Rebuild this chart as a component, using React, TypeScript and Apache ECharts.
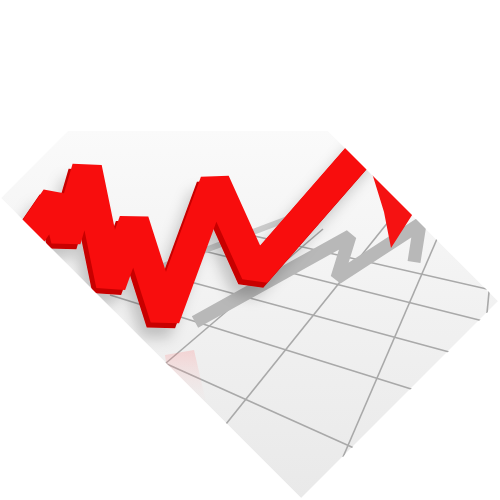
import React, { useEffect, useRef } from "react";
import * as echarts from "echarts";

// everything is read in screen units: both axes run 0..500 over the canvas
const ribbonX = [12, 56, 66, 87, 111, 134, 165, 215, 256, 372];
const ribbonY = [262, 198, 240, 168, 285, 221, 318, 182, 273, 140];

const arrowX = [368, 405, 414, 391, 384];
const arrowY = [160, 197, 212, 248, 212];

const shadowX = [195, 350, 337, 420, 414];
const shadowY = [322, 236, 278, 224, 262];

const shadow2X = [158, 290];
const shadow2Y = [268, 218];

// perspective floor grid
const gridX1 = [166, 226, 343, 487, 120, 110, 150, 200, 250];
const gridY1 = [363, 424, 457, 313, 343, 295, 271, 250, 235];
const gridX2 = [323, 397, 443, 494, 365, 440, 475, 495, 500];
const gridY2 = [229, 211, 225, 240, 453, 398, 359, 324, 292];

// tilted photo frame and the white corners around it
const panelX = [1, 65, 328, 498, 301];
const panelY = [198, 131, 131, 301, 498];

const glowX = [165, 194, 206, 172];
const glowY = [355, 350, 402, 406];

const maskX = [
  [0, 199, 0],
  [197, 500, 500],
  [500, 500, 300],
  [0, 0, 303],
];
const maskY = [
  [0, 0, 199],
  [0, 0, 303],
  [300, 500, 500],
  [197, 500, 500],
];

const zip = (xs: number[], ys: number[]) => xs.map((x, i) => [x, ys[i]]);

const App: React.FC = () => {
  const chartRef = useRef<HTMLDivElement>(null);

  useEffect(() => {
    document.body.style.margin = "0";
    const chart = echarts.init(chartRef.current!, null, { renderer: "svg" });

    const polygon = (xs: number[], ys: number[], style: any, z: number) => ({
      type: "custom",
      z,
      silent: true,
      data: [[xs[0], ys[0]]],
      renderItem: (_: any, api: any) => ({
        type: "polygon",
        shape: { points: xs.map((x, i) => api.coord([x, ys[i]])) },
        style,
      }),
    });

    const options = {
      animation: false,
      backgroundColor: "#ffffff",
      grid: { left: 0, right: 0, top: 0, bottom: 0 },
      xAxis: { type: "value", min: 0, max: 500, show: false },
      yAxis: { type: "value", min: 0, max: 500, inverse: true, show: false },
      series: [
        polygon(
          panelX,
          panelY,
          {
            fill: new echarts.graphic.LinearGradient(0, 0, 0, 1, [
              { offset: 0, color: "#fafafa" },
              { offset: 0.5, color: "#f1f1f1" },
              { offset: 1, color: "#e9e9e9" },
            ]),
          },
          1
        ),
        {
          type: "custom",
          z: 2,
          silent: true,
          data: gridX1.map((x, i) => [x, gridY1[i], gridX2[i], gridY2[i]]),
          renderItem: (_: any, api: any) => {
            const a = api.coord([api.value(0), api.value(1)]);
            const b = api.coord([api.value(2), api.value(3)]);
            return {
              type: "line",
              shape: { x1: a[0], y1: a[1], x2: b[0], y2: b[1] },
              style: { stroke: "#a9a9a9", lineWidth: 1.6 },
            };
          },
        },
        polygon(
          glowX,
          glowY,
          {
            fill: new echarts.graphic.LinearGradient(0, 0, 0, 1, [
              { offset: 0, color: "rgba(255,110,110,0.22)" },
              { offset: 1, color: "rgba(255,200,200,0)" },
            ]),
          },
          2
        ),
        {
          type: "line",
          z: 3,
          silent: true,
          symbol: "none",
          data: zip(shadow2X, shadow2Y),
          lineStyle: { width: 6, color: "#cbcbcb", cap: "butt" },
        },
        {
          type: "line",
          z: 3,
          silent: true,
          symbol: "none",
          data: zip(shadowX, shadowY),
          lineStyle: { width: 13, color: "#b8b8b8", join: "bevel", cap: "butt" },
        },
        {
          type: "line",
          z: 4,
          silent: true,
          symbol: "none",
          data: zip(
            ribbonX.map((x) => x - 4),
            ribbonY.map((y) => y + 5)
          ),
          lineStyle: {
            width: 30,
            color: "#c80000",
            join: "bevel",
            cap: "butt",
            shadowColor: "rgba(0,0,0,0.2)",
            shadowBlur: 14,
            shadowOffsetX: -6,
            shadowOffsetY: 10,
          },
        },
        {
          type: "line",
          z: 5,
          silent: true,
          symbol: "none",
          data: zip(ribbonX, ribbonY),
          lineStyle: { width: 30, color: "#f80d0d", join: "bevel", cap: "butt" },
        },
        polygon(arrowX, arrowY, { fill: "#f51212" }, 5),
        ...maskX.map((xs, i) => polygon(xs, maskY[i], { fill: "#ffffff" }, 10)),
      ],
    };
    chart.setOption(options);

    return () => {
      chart.dispose();
    };
  }, []);

  return <div ref={chartRef} style={{ width: "500px", height: "500px" }}></div>;
};

export default App;
